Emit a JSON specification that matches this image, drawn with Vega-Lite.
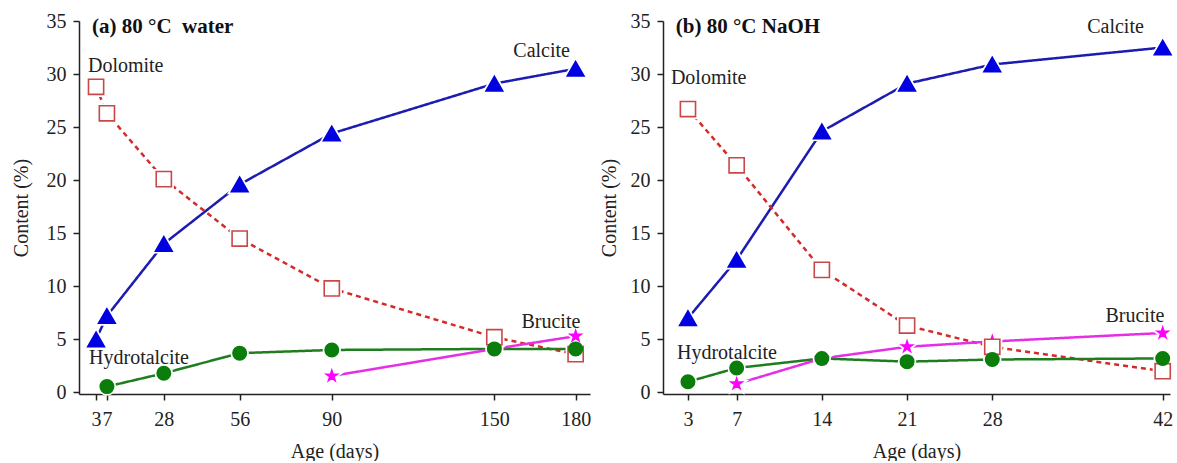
{
  "$schema": "https://vega.github.io/schema/vega-lite/v6.json",
  "padding": {"left": 11, "top": 11, "right": 0, "bottom": 0},
  "background": "white",
  "spacing": 4,
  "config": {
    "view": {"stroke": null},
    "font": "Liberation Serif",
    "axis": {
      "grid": false,
      "domainColor": "#222",
      "domainWidth": 1.5,
      "tickColor": "#222",
      "tickWidth": 1.5,
      "tickSize": 6,
      "labelFont": "Liberation Serif",
      "labelFontSize": 20,
      "labelColor": "#222",
      "titleFont": "Liberation Serif",
      "titleFontSize": 20,
      "titleFontWeight": "normal",
      "titleColor": "#222"
    }
  },
  "datasets": {
    "pts": [
      {"panel": "a", "mineral": "Calcite", "day": 3, "value": 5.0},
      {"panel": "a", "mineral": "Calcite", "day": 7, "value": 7.2},
      {"panel": "a", "mineral": "Calcite", "day": 28, "value": 14.0},
      {"panel": "a", "mineral": "Calcite", "day": 56, "value": 19.6},
      {"panel": "a", "mineral": "Calcite", "day": 90, "value": 24.4},
      {"panel": "a", "mineral": "Calcite", "day": 150, "value": 29.1},
      {"panel": "a", "mineral": "Calcite", "day": 180, "value": 30.5},
      {"panel": "a", "mineral": "Dolomite", "day": 3, "value": 28.8},
      {"panel": "a", "mineral": "Dolomite", "day": 7, "value": 26.3},
      {"panel": "a", "mineral": "Dolomite", "day": 28, "value": 20.1},
      {"panel": "a", "mineral": "Dolomite", "day": 56, "value": 14.5},
      {"panel": "a", "mineral": "Dolomite", "day": 90, "value": 9.8},
      {"panel": "a", "mineral": "Dolomite", "day": 150, "value": 5.2},
      {"panel": "a", "mineral": "Dolomite", "day": 180, "value": 3.6},
      {"panel": "a", "mineral": "Hydrotalcite", "day": 7, "value": 0.55},
      {"panel": "a", "mineral": "Hydrotalcite", "day": 28, "value": 1.8},
      {"panel": "a", "mineral": "Hydrotalcite", "day": 56, "value": 3.7},
      {"panel": "a", "mineral": "Hydrotalcite", "day": 90, "value": 4.0},
      {"panel": "a", "mineral": "Hydrotalcite", "day": 150, "value": 4.1},
      {"panel": "a", "mineral": "Hydrotalcite", "day": 180, "value": 4.1},
      {"panel": "a", "mineral": "Brucite", "day": 90, "value": 1.55},
      {"panel": "a", "mineral": "Brucite", "day": 150, "value": 4.1},
      {"panel": "a", "mineral": "Brucite", "day": 180, "value": 5.3},
      {"panel": "b", "mineral": "Calcite", "day": 3, "value": 7.0},
      {"panel": "b", "mineral": "Calcite", "day": 7, "value": 12.5},
      {"panel": "b", "mineral": "Calcite", "day": 14, "value": 24.6},
      {"panel": "b", "mineral": "Calcite", "day": 21, "value": 29.1},
      {"panel": "b", "mineral": "Calcite", "day": 28, "value": 30.9},
      {"panel": "b", "mineral": "Calcite", "day": 42, "value": 32.5},
      {"panel": "b", "mineral": "Dolomite", "day": 3, "value": 26.7},
      {"panel": "b", "mineral": "Dolomite", "day": 7, "value": 21.4},
      {"panel": "b", "mineral": "Dolomite", "day": 14, "value": 11.55},
      {"panel": "b", "mineral": "Dolomite", "day": 21, "value": 6.3},
      {"panel": "b", "mineral": "Dolomite", "day": 28, "value": 4.3},
      {"panel": "b", "mineral": "Dolomite", "day": 42, "value": 2.0},
      {"panel": "b", "mineral": "Hydrotalcite", "day": 3, "value": 1.0},
      {"panel": "b", "mineral": "Hydrotalcite", "day": 7, "value": 2.3},
      {"panel": "b", "mineral": "Hydrotalcite", "day": 14, "value": 3.2},
      {"panel": "b", "mineral": "Hydrotalcite", "day": 21, "value": 2.9},
      {"panel": "b", "mineral": "Hydrotalcite", "day": 28, "value": 3.1},
      {"panel": "b", "mineral": "Hydrotalcite", "day": 42, "value": 3.2},
      {"panel": "b", "mineral": "Brucite", "day": 7, "value": 0.8},
      {"panel": "b", "mineral": "Brucite", "day": 14, "value": 3.2},
      {"panel": "b", "mineral": "Brucite", "day": 21, "value": 4.3},
      {"panel": "b", "mineral": "Brucite", "day": 28, "value": 4.8},
      {"panel": "b", "mineral": "Brucite", "day": 42, "value": 5.6}
    ],
    "labels": [
      {"panel": "a", "text": "(a) 80 °C\u00a0 water", "bold": "yes", "day": 1.5, "value": 34.4},
      {"panel": "a", "text": "Dolomite", "bold": "no", "day": 0.0, "value": 30.8},
      {"panel": "a", "text": "Calcite", "bold": "no", "day": 157, "value": 32.2},
      {"panel": "a", "text": "Brucite", "bold": "no", "day": 160, "value": 6.6},
      {"panel": "a", "text": "Hydrotalcite", "bold": "no", "day": 0.4, "value": 3.2},
      {"panel": "b", "text": "(b) 80 °C NaOH", "bold": "yes", "day": 2.0, "value": 34.45},
      {"panel": "b", "text": "Dolomite", "bold": "no", "day": 1.6, "value": 29.6},
      {"panel": "b", "text": "Calcite", "bold": "no", "day": 35.8, "value": 34.45},
      {"panel": "b", "text": "Brucite", "bold": "no", "day": 37.3, "value": 7.2},
      {"panel": "b", "text": "Hydrotalcite", "bold": "no", "day": 2.1, "value": 3.75}
    ]
  },
  "hconcat": [
    {
      "width": 511,
      "height": 373,
      "layer": [
        {
          "data": {"name": "pts"},
          "transform": [{"filter": "datum.panel === 'a'"}],
          "mark": {"type": "line", "strokeWidth": 2.5},
          "encoding": {
            "x": {"field": "day", "type": "quantitative", "scale": {"domain": [-3.3, 185.3], "nice": false, "zero": false},
                  "axis": {"values": [3, 7, 28, 56, 90, 150, 180], "title": "Age (days)", "labelPadding": 9, "titlePadding": 12, "labelFlush": false}},
            "y": {"field": "value", "type": "quantitative", "scale": {"domain": [-0.15, 35], "nice": false, "zero": false},
                  "axis": {"values": [0, 2.5, 5, 7.5, 10, 12.5, 15, 17.5, 20, 22.5, 25, 27.5, 30, 32.5, 35], "title": "Content (%)", "labelPadding": 7, "titlePadding": 15, "labelFlush": false,
                           "labelExpr": "datum.value % 5 === 0 ? datum.label : ''",
                           "tickSize": {"condition": {"test": "datum.value % 5 !== 0", "value": 4}, "value": 6}}},
            "color": {"field": "mineral", "type": "nominal", "legend": null,
                      "scale": {"domain": ["Calcite", "Dolomite", "Hydrotalcite", "Brucite"], "range": ["#1c1cb0", "#d42a2a", "#1e7d1e", "#e52ee5"]}},
            "strokeDash": {"field": "mineral", "type": "nominal", "legend": null,
                      "scale": {"domain": ["Calcite", "Dolomite", "Hydrotalcite", "Brucite"], "range": [[1, 0], [5, 4], [1, 0], [1, 0]]}},
            "order": {"field": "day", "type": "quantitative"}
          }
        },
        {
          "data": {"name": "pts"},
          "transform": [{"filter": "datum.panel === 'a'"}],
          "mark": {"type": "point", "filled": true, "fill": "white", "stroke": "white", "strokeWidth": 5, "opacity": 1},
          "encoding": {
            "x": {"field": "day", "type": "quantitative"},
            "y": {"field": "value", "type": "quantitative"},
            "shape": {"field": "mineral", "type": "nominal", "legend": null,
                      "scale": {"domain": ["Calcite", "Dolomite", "Hydrotalcite", "Brucite"], "range": ["triangle-up", "square", "circle", "M0,-1L0.2245,-0.309L0.9511,-0.309L0.3633,0.118L0.5878,0.809L0,0.382L-0.5878,0.809L-0.3633,0.118L-0.9511,-0.309L-0.2245,-0.309Z"]}},
            "size": {"field": "mineral", "type": "nominal", "legend": null,
                      "scale": {"domain": ["Calcite", "Dolomite", "Hydrotalcite", "Brucite"], "range": [280, 130, 180, 70]}}
          }
        },
        {
          "data": {"name": "pts"},
          "transform": [{"filter": "datum.panel === 'a'"}],
          "mark": {"type": "point", "filled": true, "strokeWidth": 1.6, "opacity": 1},
          "encoding": {
            "x": {"field": "day", "type": "quantitative"},
            "y": {"field": "value", "type": "quantitative"},
            "shape": {"field": "mineral", "type": "nominal", "legend": null},
            "size": {"field": "mineral", "type": "nominal", "legend": null},
            "fill": {"field": "mineral", "type": "nominal", "legend": null,
                      "scale": {"domain": ["Calcite", "Dolomite", "Hydrotalcite", "Brucite"], "range": ["#0000e0", "#ffffff", "#0a7d0a", "#ff00ff"]}},
            "stroke": {"field": "mineral", "type": "nominal", "legend": null,
                      "scale": {"domain": ["Calcite", "Dolomite", "Hydrotalcite", "Brucite"], "range": ["#0000e0", "#c84848", "#0a7d0a", "#ff00ff"]}},
            "order": {"field": "mineral", "type": "nominal", "sort": "ascending"}
          }
        },
        {
          "data": {"name": "labels"},
          "transform": [{"filter": "datum.panel === 'a' && datum.bold === 'no'"}],
          "mark": {"type": "text", "align": "left", "baseline": "middle", "font": "Liberation Serif", "fontSize": 20, "color": "#222"},
          "encoding": {
            "x": {"field": "day", "type": "quantitative"},
            "y": {"field": "value", "type": "quantitative"},
            "text": {"field": "text"}
          }
        },
        {
          "data": {"name": "labels"},
          "transform": [{"filter": "datum.panel === 'a' && datum.bold === 'yes'"}],
          "mark": {"type": "text", "align": "left", "baseline": "middle", "font": "Liberation Serif", "fontSize": 21, "fontWeight": "bold", "color": "#111"},
          "encoding": {
            "x": {"field": "day", "type": "quantitative"},
            "y": {"field": "value", "type": "quantitative"},
            "text": {"field": "text"}
          }
        }
      ]
    },
    {
      "width": 507,
      "height": 373,
      "layer": [
        {
          "data": {"name": "pts"},
          "transform": [{"filter": "datum.panel === 'b'"}],
          "mark": {"type": "line", "strokeWidth": 2.5},
          "encoding": {
            "x": {"field": "day", "type": "quantitative", "scale": {"domain": [0.95, 42.6], "nice": false, "zero": false},
                  "axis": {"values": [3, 7, 14, 21, 28, 42], "title": "Age (days)", "labelPadding": 9, "titlePadding": 12, "labelFlush": false}},
            "y": {"field": "value", "type": "quantitative", "scale": {"domain": [-0.15, 35], "nice": false, "zero": false},
                  "axis": {"values": [0, 2.5, 5, 7.5, 10, 12.5, 15, 17.5, 20, 22.5, 25, 27.5, 30, 32.5, 35], "title": "Content (%)", "labelPadding": 7, "titlePadding": 11, "labelFlush": false,
                           "labelExpr": "datum.value % 5 === 0 ? datum.label : ''",
                           "tickSize": {"condition": {"test": "datum.value % 5 !== 0", "value": 4}, "value": 6}}},
            "color": {"field": "mineral", "type": "nominal", "legend": null,
                      "scale": {"domain": ["Calcite", "Dolomite", "Hydrotalcite", "Brucite"], "range": ["#1c1cb0", "#d42a2a", "#1e7d1e", "#e52ee5"]}},
            "strokeDash": {"field": "mineral", "type": "nominal", "legend": null,
                      "scale": {"domain": ["Calcite", "Dolomite", "Hydrotalcite", "Brucite"], "range": [[1, 0], [5, 4], [1, 0], [1, 0]]}},
            "order": {"field": "day", "type": "quantitative"}
          }
        },
        {
          "data": {"name": "pts"},
          "transform": [{"filter": "datum.panel === 'b'"}],
          "mark": {"type": "point", "filled": true, "fill": "white", "stroke": "white", "strokeWidth": 5, "opacity": 1},
          "encoding": {
            "x": {"field": "day", "type": "quantitative"},
            "y": {"field": "value", "type": "quantitative"},
            "shape": {"field": "mineral", "type": "nominal", "legend": null,
                      "scale": {"domain": ["Calcite", "Dolomite", "Hydrotalcite", "Brucite"], "range": ["triangle-up", "square", "circle", "M0,-1L0.2245,-0.309L0.9511,-0.309L0.3633,0.118L0.5878,0.809L0,0.382L-0.5878,0.809L-0.3633,0.118L-0.9511,-0.309L-0.2245,-0.309Z"]}},
            "size": {"field": "mineral", "type": "nominal", "legend": null,
                      "scale": {"domain": ["Calcite", "Dolomite", "Hydrotalcite", "Brucite"], "range": [280, 130, 180, 70]}}
          }
        },
        {
          "data": {"name": "pts"},
          "transform": [{"filter": "datum.panel === 'b'"}],
          "mark": {"type": "point", "filled": true, "strokeWidth": 1.6, "opacity": 1},
          "encoding": {
            "x": {"field": "day", "type": "quantitative"},
            "y": {"field": "value", "type": "quantitative"},
            "shape": {"field": "mineral", "type": "nominal", "legend": null},
            "size": {"field": "mineral", "type": "nominal", "legend": null},
            "fill": {"field": "mineral", "type": "nominal", "legend": null,
                      "scale": {"domain": ["Calcite", "Dolomite", "Hydrotalcite", "Brucite"], "range": ["#0000e0", "#ffffff", "#0a7d0a", "#ff00ff"]}},
            "stroke": {"field": "mineral", "type": "nominal", "legend": null,
                      "scale": {"domain": ["Calcite", "Dolomite", "Hydrotalcite", "Brucite"], "range": ["#0000e0", "#c84848", "#0a7d0a", "#ff00ff"]}},
            "order": {"field": "mineral", "type": "nominal", "sort": "ascending"}
          }
        },
        {
          "data": {"name": "labels"},
          "transform": [{"filter": "datum.panel === 'b' && datum.bold === 'no'"}],
          "mark": {"type": "text", "align": "left", "baseline": "middle", "font": "Liberation Serif", "fontSize": 20, "color": "#222"},
          "encoding": {
            "x": {"field": "day", "type": "quantitative"},
            "y": {"field": "value", "type": "quantitative"},
            "text": {"field": "text"}
          }
        },
        {
          "data": {"name": "labels"},
          "transform": [{"filter": "datum.panel === 'b' && datum.bold === 'yes'"}],
          "mark": {"type": "text", "align": "left", "baseline": "middle", "font": "Liberation Serif", "fontSize": 21, "fontWeight": "bold", "color": "#111"},
          "encoding": {
            "x": {"field": "day", "type": "quantitative"},
            "y": {"field": "value", "type": "quantitative"},
            "text": {"field": "text"}
          }
        }
      ]
    }
  ]
}
